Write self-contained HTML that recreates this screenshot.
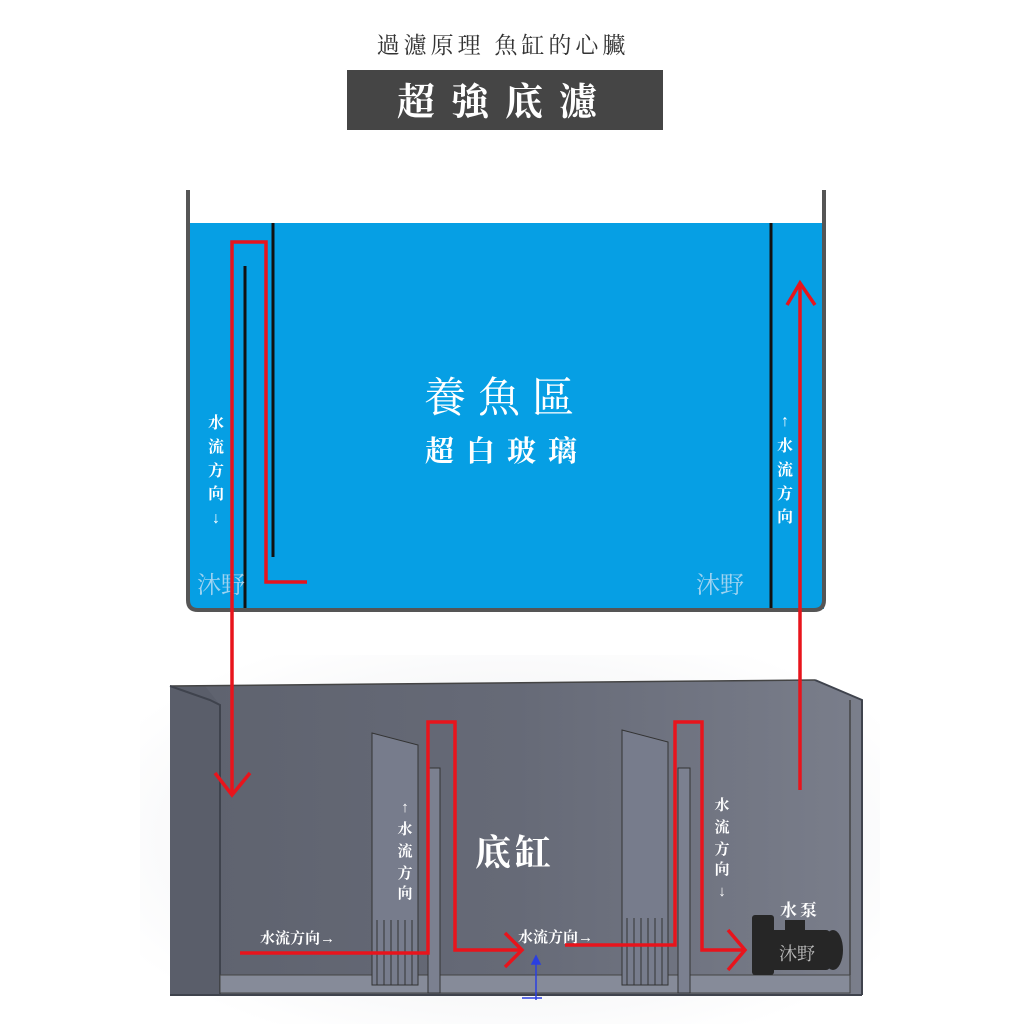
<!DOCTYPE html>
<html><head><meta charset="utf-8"><style>
html,body{margin:0;padding:0;background:#fff;}
svg text{font-family:"Liberation Serif","Noto Serif CJK SC","Noto Sans CJK TC",serif;}
</style></head><body>
<svg width="1024" height="1024" viewBox="0 0 1024 1024" xmlns="http://www.w3.org/2000/svg">
<defs>
<linearGradient id="sg" x1="0" y1="0" x2="1" y2="0">
<stop offset="0" stop-color="#5e626e"/><stop offset="0.5" stop-color="#666a77"/><stop offset="1" stop-color="#7a7e8b"/>
</linearGradient>
<radialGradient id="halo" cx="0.5" cy="0.5" r="0.6">
<stop offset="0" stop-color="#d8dae0"/><stop offset="1" stop-color="#ffffff"/>
</radialGradient>
</defs>
<rect width="1024" height="1024" fill="#fff"/>
<!-- title -->
<text x="503" y="53" font-size="23" fill="#333" text-anchor="middle" letter-spacing="4">過濾原理 魚缸的心臟</text>
<rect x="347" y="70" width="316" height="60" fill="#454545"/>
<text x="505" y="115" font-size="38" fill="#fff" text-anchor="middle" letter-spacing="16" font-weight="bold">超強底濾</text>

<!-- top tank -->
<rect x="189" y="223" width="635" height="386" fill="#069fe4"/>
<path d="M188 190 V600 Q188 610 198 610 H814 Q824 610 824 600 V190" fill="none" stroke="#555" stroke-width="4"/>
<line x1="273" y1="223" x2="273" y2="557" stroke="#111" stroke-width="3"/>
<line x1="245" y1="266" x2="245" y2="608" stroke="#111" stroke-width="3"/>
<line x1="771" y1="223" x2="771" y2="608" stroke="#111" stroke-width="3"/>
<text x="505" y="412" font-size="42" fill="#fff" text-anchor="middle" letter-spacing="12">養魚區</text>
<text x="507" y="461" font-size="29" fill="#fff" text-anchor="middle" letter-spacing="12" font-weight="bold">超白玻璃</text>
<g font-size="16" fill="#fff" font-weight="bold" text-anchor="middle">
<text x="216" y="428">水</text><text x="216" y="452">流</text><text x="216" y="476">方</text><text x="216" y="499">向</text><text x="216" y="523">↓</text>
<text x="785" y="426">↑</text><text x="785" y="451">水</text><text x="785" y="475">流</text><text x="785" y="499">方</text><text x="785" y="522">向</text>
</g>
<g font-size="24" fill="#9fd3f0" font-family="Liberation Sans,Noto Sans CJK SC,sans-serif">
<text x="197" y="593" font-family="Liberation Sans,Noto Sans CJK SC,sans-serif">沐野</text>
<text x="696" y="593" font-family="Liberation Sans,Noto Sans CJK SC,sans-serif">沐野</text>
</g>

<!-- sump -->
<rect x="140" y="655" width="740" height="369" fill="url(#halo)" opacity="0.6"/>
<polygon points="170,686 815,680 862,700 862,995 170,995" fill="url(#sg)"/>
<polygon points="170,686 205,686 220,705 220,995 170,995" fill="#5a5e6a"/>
<line x1="170" y1="686" x2="815" y2="680" stroke="#444" stroke-width="1.5"/>
<polyline points="170,686 210,700 220,705 220,995" fill="none" stroke="#3f434d" stroke-width="2"/>
<polyline points="815,680 862,700 862,995" fill="none" stroke="#3f434d" stroke-width="2"/>
<polyline points="850,700 850,975" fill="none" stroke="#444" stroke-width="1.5"/>
<rect x="220" y="975" width="630" height="18" fill="#868b99" stroke="#444" stroke-width="1"/>
<line x1="170" y1="995" x2="862" y2="995" stroke="#3f434d" stroke-width="2"/>
<!-- partitions -->
<rect x="428" y="768" width="12" height="225" fill="#7b8090" stroke="#333" stroke-width="1"/>
<rect x="678" y="768" width="12" height="225" fill="#7b8090" stroke="#333" stroke-width="1"/>
<!-- baffles -->
<polygon points="372,733 418,745 418,985 372,985" fill="#777c8c" stroke="#333" stroke-width="1"/>
<polygon points="622,730 668,742 668,985 622,985" fill="#777c8c" stroke="#333" stroke-width="1"/>
<g stroke="#333" stroke-width="1">
<line x1="377" y1="920" x2="377" y2="985"/><line x1="384" y1="920" x2="384" y2="985"/><line x1="391" y1="920" x2="391" y2="985"/><line x1="398" y1="920" x2="398" y2="985"/><line x1="405" y1="920" x2="405" y2="985"/><line x1="412" y1="920" x2="412" y2="985"/>
<line x1="627" y1="918" x2="627" y2="985"/><line x1="634" y1="918" x2="634" y2="985"/><line x1="641" y1="918" x2="641" y2="985"/><line x1="648" y1="918" x2="648" y2="985"/><line x1="655" y1="918" x2="655" y2="985"/><line x1="662" y1="918" x2="662" y2="985"/>
</g>
<!-- pump -->
<g fill="#262626">
<rect x="752" y="915" width="22" height="60" rx="3"/>
<rect x="770" y="930" width="60" height="40" rx="4"/>
<ellipse cx="833" cy="950" rx="10" ry="20"/>
<rect x="785" y="920" width="20" height="12"/>
</g>
<text x="779" y="960" font-size="18" fill="#bbb" font-family="Liberation Sans,Noto Sans CJK SC,sans-serif">沐野</text>
<text x="800" y="916" font-size="17" fill="#fff" font-weight="bold" text-anchor="middle" letter-spacing="3">水泵</text>
<text x="515" y="865" font-size="36" fill="#fff" font-weight="bold" text-anchor="middle" letter-spacing="4">底缸</text>
<g font-size="15" fill="#fff" font-weight="bold" text-anchor="middle">
<text x="405" y="812">↑</text><text x="405" y="834">水</text><text x="405" y="856">流</text><text x="405" y="878">方</text><text x="405" y="898">向</text>
<text x="722" y="810">水</text><text x="722" y="832">流</text><text x="722" y="854">方</text><text x="722" y="874">向</text><text x="722" y="896">↓</text>
</g>
<text x="260" y="943" font-size="15" fill="#fff" font-weight="bold">水流方向→</text>
<text x="518" y="942" font-size="15" fill="#fff" font-weight="bold">水流方向→</text>
<!-- blue axis -->
<g stroke="#2a3fe0" stroke-width="1.5" fill="#2a3fe0">
<line x1="536" y1="960" x2="536" y2="1000"/><polygon points="532,964 536,956 540,964"/>
<line x1="522" y1="998" x2="542" y2="998"/>
</g>

<!-- red flows -->
<g fill="none" stroke="#e8141c" stroke-width="3.5" stroke-linejoin="miter">
<polyline points="307,582 266,582 266,242 232,242 232,795"/>
<polyline points="215,773 232,795 250,773"/>
<polyline points="800,790 800,283"/>
<polyline points="787,305 800,283 815,305"/>
<polyline points="240,953 428,953 428,722 455,722 455,950 522,950"/>
<polyline points="505,933 522,950 505,967"/>
<polyline points="565,945 675,945 675,722 702,722 702,950 745,950"/>
<polyline points="728,930 745,950 728,970"/>
</g>
</svg>
</body></html>
